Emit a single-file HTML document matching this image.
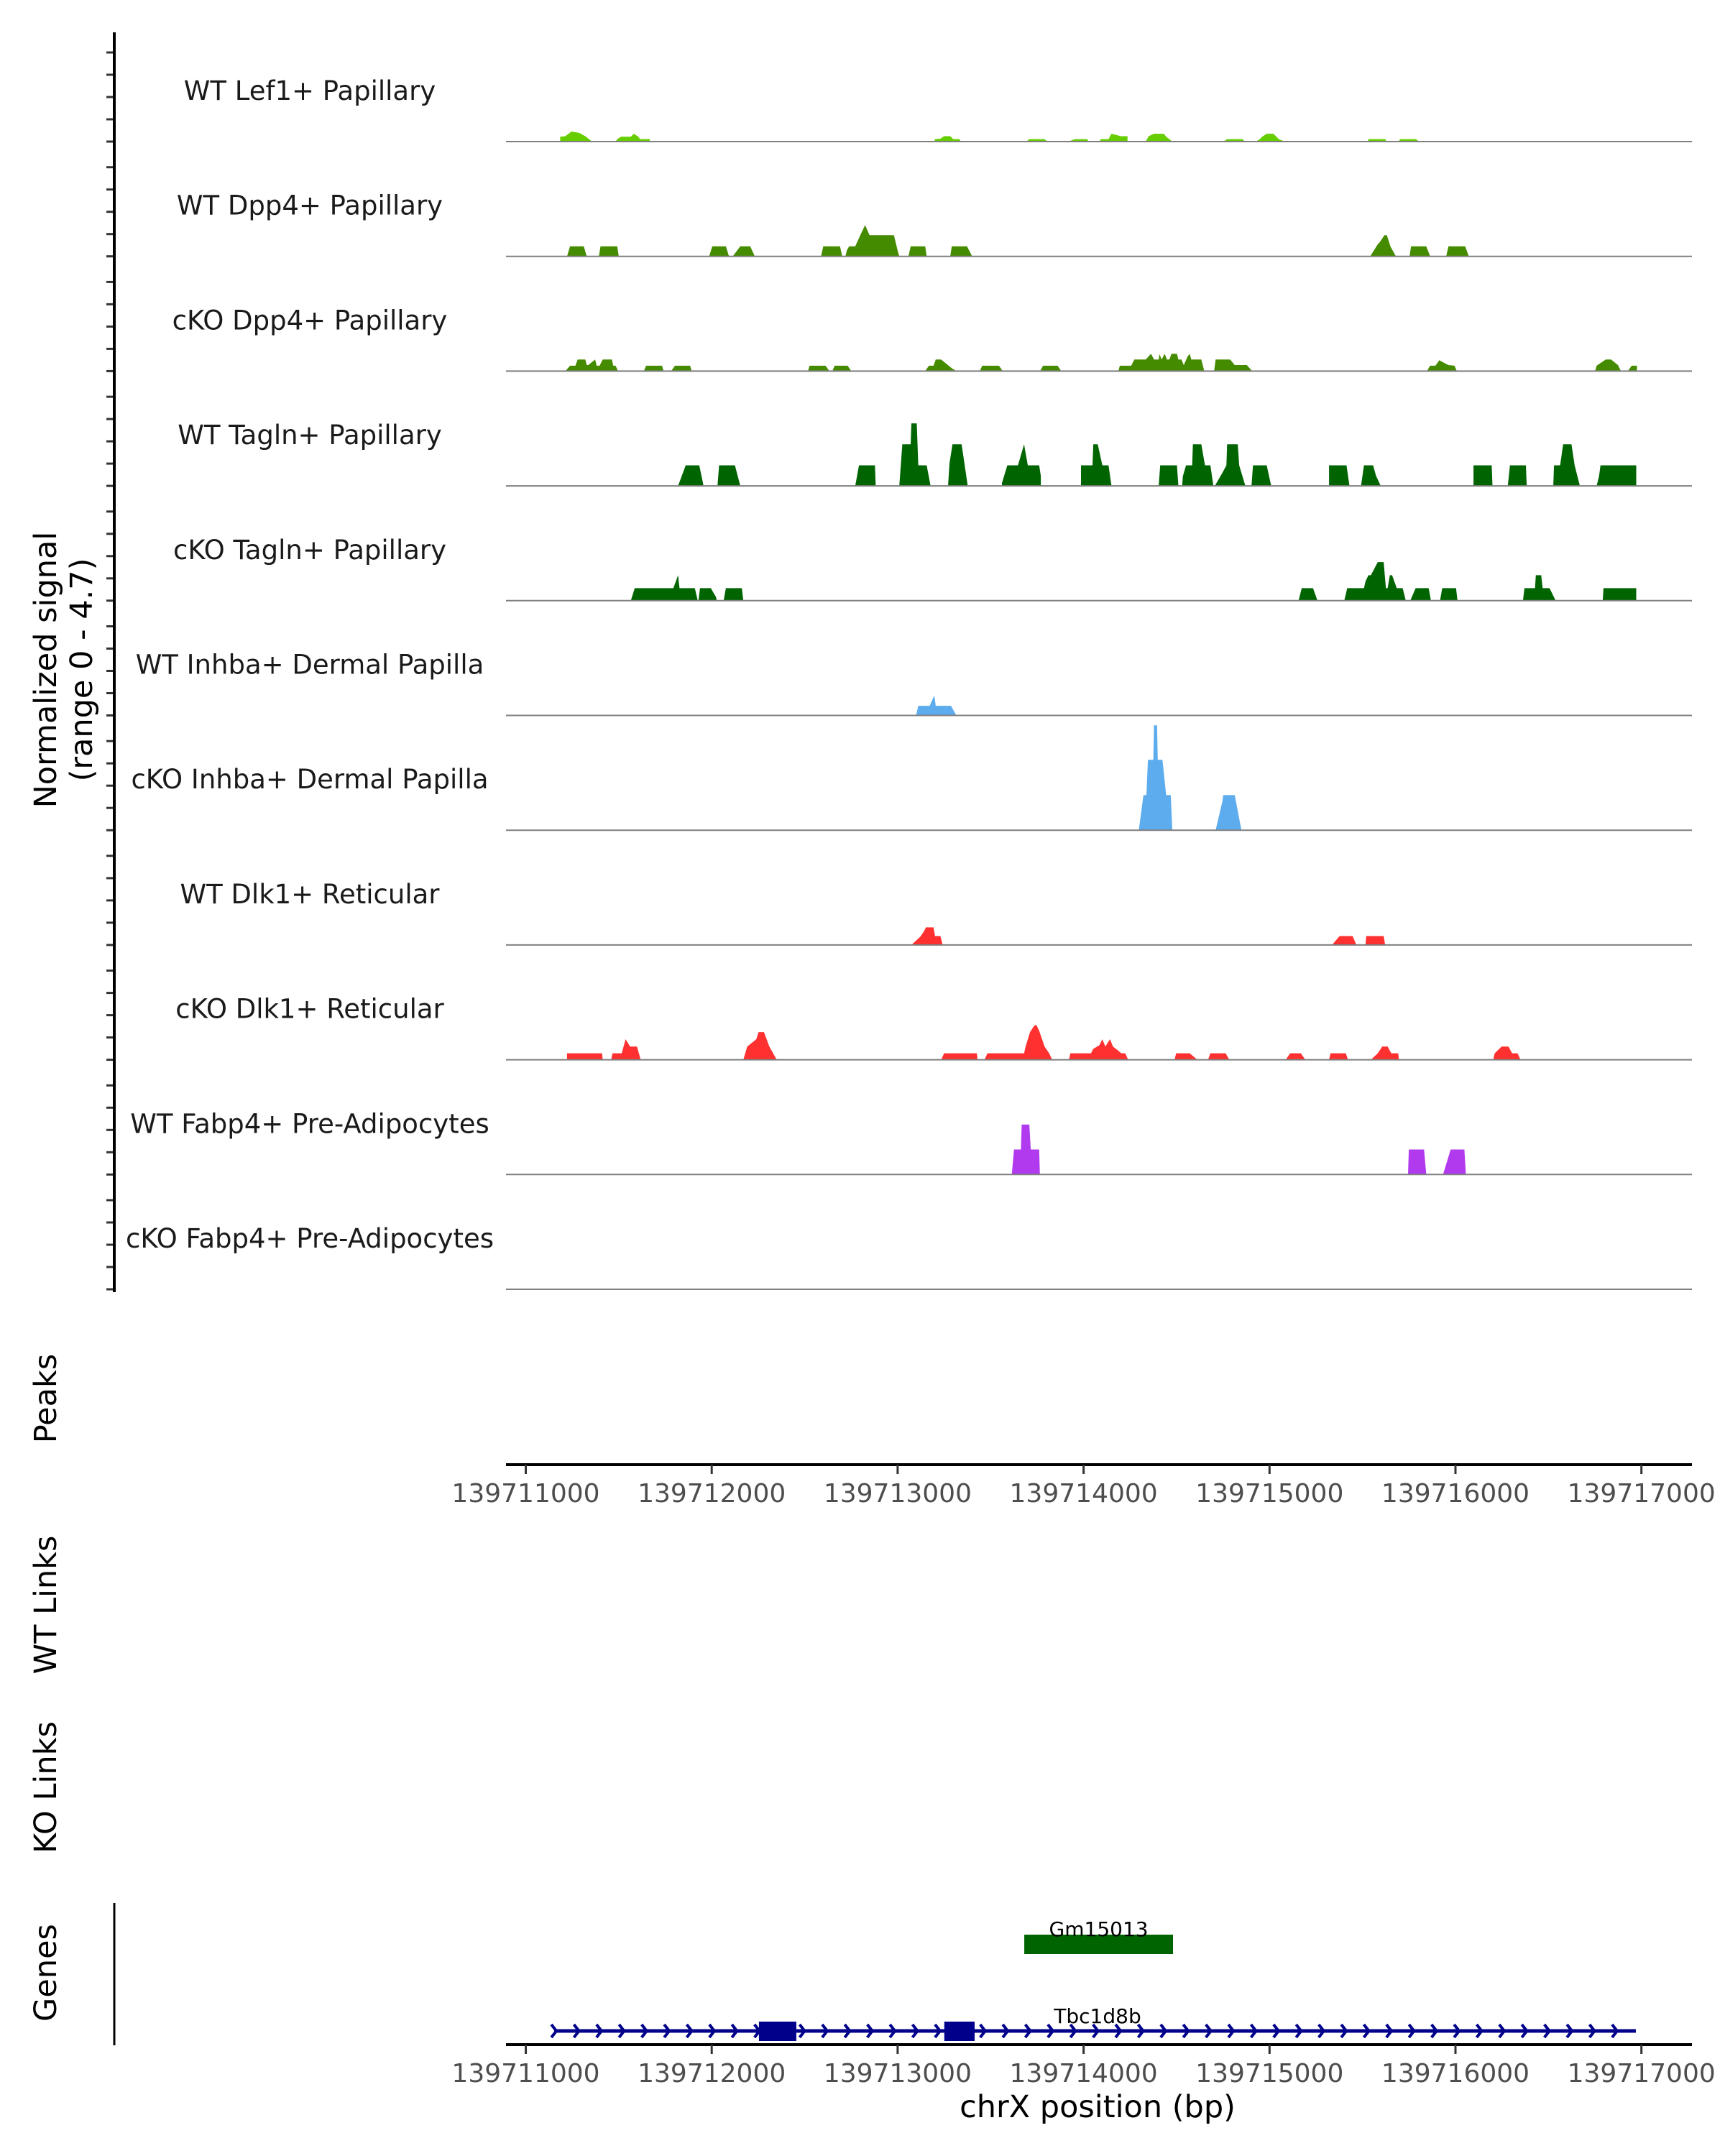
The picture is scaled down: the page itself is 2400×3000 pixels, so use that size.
<!DOCTYPE html>
<html><head><meta charset="utf-8"><title>Coverage plot</title>
<style>
html,body{margin:0;padding:0;background:#fff;}
svg{display:block;font-family:"DejaVu Sans","Liberation Sans",sans-serif;}
</style></head>
<body>
<svg id="chart" width="2400" height="3000" viewBox="0 0 2400 3000" xmlns="http://www.w3.org/2000/svg">
<rect x="0" y="0" width="2400" height="3000" fill="#fff"/>
<g id="tracks"></g>
<g id="axes"></g>
<g id="genes"></g>
</svg>
<script>
const regionStart = 139711000;
const xTickValues = [139711000,139712000,139713000,139714000,139715000,139716000,139717000];
const xTickLabels = ["139711000","139712000","139713000","139714000","139715000","139716000","139717000"];
const trackNames = ["WT Lef1+ Papillary","WT Dpp4+ Papillary","cKO Dpp4+ Papillary","WT Tagln+ Papillary","cKO Tagln+ Papillary","WT Inhba+ Dermal Papilla","cKO Inhba+ Dermal Papilla","WT Dlk1+ Reticular","cKO Dlk1+ Reticular","WT Fabp4+ Pre-Adipocytes","cKO Fabp4+ Pre-Adipocytes"];
const trackColors = ["#66cd00","#458b00","#458b00","#006400","#006400","#5cacee","#5cacee","#ff3030","#ff3030","#b23aee","#b23aee"];
const signalMax = 4.7;

// positions are bp offsets from regionStart; values are normalized signal
const lef1WtPos = [185,185,213,246,287,320,357, 483,492,512,565,581,606,614,667,667, 2197,2201,2230,2250,2283,2299,2332,2340, 2692,2708,2790,2806, 2917,2954,3019,3027, 3085,3093,3134,3150,3183,3199,3236,3236, 3334,3350,3379,3432,3444,3461,3477, 3751,3772,3853,3870, 3927,3948,3960,3985,4021,4050,4083, 4528,4532,4622,4630, 4692,4704,4786,4806];
const lef1WtVal = [0,.22,.24,.45,.39,.24,0, 0,.11,.22,.22,.35,.22,.11,.11,0, 0,.11,.13,.24,.24,.11,.11,0, 0,.11,.11,0, 0,.11,.11,0, 0,.11,.11,.35,.28,.24,.24,0, 0,.24,.35,.35,.22,.11,0, 0,.11,.11,0, 0,.11,.22,.35,.35,.11,0, 0,.11,.11,0, 0,.11,.11,0];

const dpp4WtPos = [222,238,312,328, 393,402,492,500, 986,1003,1076,1093, 1113,1154,1207,1232, 1588,1600,1690,1702, 1719,1727,1739,1772,1800,1825,1849,1980,2001,2009, 2058,2070,2148,2156, 2283,2291,2373,2401, 4541,4582,4594,4618,4631,4651,4680, 4753,4761,4843,4864, 4950,4962,5052,5072];
const dpp4WtVal = [0,.45,.45,0, 0,.45,.45,0, 0,.45,.45,0, 0,.45,.45,0, 0,.45,.45,0, 0,.27,.45,.45,.97,1.40,.95,.95,.22,0, 0,.45,.45,0, 0,.45,.45,0, 0,.54,.65,.95,.95,.43,0, 0,.45,.45,0, 0,.45,.45,0];

const dpp4KoPos = [213,238,267,279,320,328,336,373,381,397,414,463,471,483,496, 635,647,733,741, 782,802,884,892, 1518,1526,1612,1633, 1649,1661,1731,1751, 2148,2168,2193,2205,2234,2291,2316, 2442,2455,2545,2565, 2766,2782,2860,2880, 3187,3195,3256,3273,3334,3363,3379,3404,3408,3420,3436,3448,3461,3473,3502,3510,3526,3539,3559,3571,3579,3633,3649, 3702,3710,3788,3813,3878,3907, 4847,4863,4892,4913,4937,4962,4995,5007, 5751,5759,5808,5837,5874,5890, 5927,5948,5976,5976];
const dpp4KoVal = [0,.24,.24,.52,.52,.27,.27,.52,.24,.24,.52,.52,.24,.24,0, 0,.24,.24,0, 0,.24,.24,0, 0,.24,.24,0, 0,.24,.24,0, 0,.24,.24,.52,.52,.13,0, 0,.24,.24,0, 0,.24,.24,0, 0,.24,.24,.52,.52,.78,.52,.52,.76,.52,.78,.52,.52,.78,.78,.52,.52,.27,.65,.78,.52,.52,0, 0,.52,.52,.27,.27,0, 0,.24,.24,.49,.38,.27,.24,0, 0,.24,.52,.52,.27,0, 0,.24,.24,0];

const taglnWtPos = [819,860,933,954,954, 1031,1040,1125,1154, 1772,1792,1878,1882, 2009,2025,2070,2074,2103,2111,2156,2177, 2271,2279,2295,2344,2377, 2561,2561,2590,2647,2680,2700,2761,2770,2770, 2986,2986,3048,3052,3076,3101,3134,3150, 3404,3412,3502,3510, 3530,3534,3551,3584,3588,3633,3653,3682,3698, 3706,3747,3768,3772,3829,3837,3870, 3903,3911,3985,4009, 4320,4320,4414,4430, 4492,4508,4557,4573,4598, 5097,5097,5195,5199, 5281,5285,5293,5379,5383, 5526,5530,5563,5579,5624,5641,5669, 5759,5772,5780,5972,5972];
const taglnWtVal = [0,.92,.92,.09,0, 0,.92,.92,0, 0,.92,.92,0, 0,1.86,1.86,2.80,2.80,.92,.92,0, 0,1.03,1.86,1.86,0, 0,.13,.92,.92,1.86,.92,.92,.45,0, 0,.92,.92,1.86,1.86,.92,.92,0, 0,.92,.92,0, 0,.43,.92,.92,1.86,1.86,.92,.92,0, 0,.59,.92,1.86,1.86,.92,0, 0,.92,.92,0, 0,.92,.92,0, 0,.92,.92,.45,0, 0,.92,.92,0, 0,.27,.92,.92,0, 0,.92,.92,1.86,1.86,.92,0, 0,.43,.92,.92,0];

const taglnKoPos = [565,586,794,819,827,909,925, 929,937,995,1023,1027, 1064,1076,1162,1170, 4156,4173,4234,4258, 4402,4418,4508,4516,4532,4545,4582,4614,4626,4635,4647,4659,4684,4716,4733, 4757,4786,4856,4868, 4917,4929,5003,5011, 5363,5371,5428,5432,5461,5469,5506,5539, 5792,5796,5972,5972];
const taglnKoVal = [0,.56,.56,1.14,.56,.56,0, 0,.56,.56,.16,0, 0,.56,.56,0, 0,.56,.56,0, 0,.56,.56,.86,1.14,1.14,1.73,1.73,.56,.56,1.14,1.14,.56,.56,0, 0,.56,.56,0, 0,.56,.56,0, 0,.56,.56,1.14,1.14,.56,.56,0, 0,.56,.56,0];

const inhbaWtPos = [2099,2111,2172,2197,2205,2287,2316];
const inhbaWtVal = [0,.43,.43,.89,.43,.43,0];

const inhbaKoPos = [3297,3322,3338,3346,3375,3379,3395,3399,3424,3444,3469,3477, 3710,3747,3751,3813,3849];
const inhbaKoVal = [0,1.57,1.57,3.15,3.15,4.70,4.70,3.15,3.15,1.57,1.57,0, 0,1.30,1.57,1.57,0];

const dlk1WtPos = [2074,2123,2144,2152,2193,2201,2230,2242, 4336,4377,4447,4467, 4516,4520,4614,4622];
const dlk1WtVal = [0,.38,.65,.79,.79,.40,.40,0, 0,.40,.40,0, 0,.40,.40,0];

const dlk1KoPos = [222,222,410,414, 459,467,516,537,561,598,618, 1170,1191,1240,1252,1281,1310,1350, 2234,2250,2426,2430, 2467,2483,2680,2688,2712,2733,2745,2761,2790,2815,2831, 2921,2929,3040,3052,3085,3101,3117,3142,3158,3183,3203,3224,3240, 3489,3498,3571,3612, 3669,3682,3764,3784, 4087,4111,4168,4193, 4320,4328,4410,4422, 4545,4582,4606,4635,4655,4692,4696, 5203,5211,5248,5285,5305,5334,5350];
const dlk1KoVal = [0,.29,.29,0, 0,.29,.29,.92,.59,.59,0, 0,.59,.92,1.24,1.24,.59,0, 0,.29,.29,0, 0,.29,.29,.59,1.24,1.51,1.57,1.30,.59,.29,0, 0,.29,.29,.49,.65,.92,.59,.92,.59,.43,.29,.29,0, 0,.29,.29,0, 0,.29,.29,0, 0,.29,.29,0, 0,.29,.29,0, 0,.29,.59,.59,.29,.29,0, 0,.29,.59,.59,.29,.29,0];

const fabp4WtPos = [2614,2626,2663,2667,2708,2716,2761,2765, 4745,4749,4831,4843, 4933,4974,5048,5056];
const fabp4WtVal = [0,1.12,1.12,2.24,2.24,1.12,1.12,0, 0,1.12,1.12,0, 0,1.12,1.12,0];

const fabp4KoPos = [];
const fabp4KoVal = [];

const geneNames = ["Gm15013","Tbc1d8b"];
const geneStarts = [2681,153];
const geneEnds = [3481,5970];
const exonStarts = [1254,2251];
const exonEnds = [1455,2414];

const trackPos = [lef1WtPos,dpp4WtPos,dpp4KoPos,taglnWtPos,taglnKoPos,inhbaWtPos,inhbaKoPos,dlk1WtPos,dlk1KoPos,fabp4WtPos,fabp4KoPos];
const trackVal = [lef1WtVal,dpp4WtVal,dpp4KoVal,taglnWtVal,taglnKoVal,inhbaWtVal,inhbaKoVal,dlk1WtVal,dlk1KoVal,fabp4WtVal,fabp4KoVal];

const NS = "http://www.w3.org/2000/svg";
const X0 = 731.5, PXPERBP = 0.2587;
function xScale(bp){ return X0 + (bp - regionStart) * PXPERBP; }
function xOff(off){ return xScale(regionStart + off); }
const BASE0 = 197, TRACKH = 159.7, SIGPX = 146;
function yScale(v, base){ return base - v / signalMax * SIGPX; }
function mk(tag, attrs, parent){ const e=document.createElementNS(NS,tag); for(const k in attrs) e.setAttribute(k,attrs[k]); parent.appendChild(e); return e; }

const tracksG = document.getElementById('tracks');
const axesG = document.getElementById('axes');
const genesG = document.getElementById('genes');

let yl = mk('line',{x1:159,y1:45,x2:159,y2:1798,stroke:'#000','stroke-width':4},axesG);



for(let i=0;i<trackNames.length;i++){
  const base = BASE0 + TRACKH*i;
  const g = mk('g',{},tracksG);
  
  
  for(let t=0;t<5;t++){
    const ty = base - t*31;
    const tk = mk('line',{x1:148,y1:ty,x2:159,y2:ty,stroke:'#333','stroke-width':3},g);
    
    
  }
  const lab = mk('text',{x:431,y:base-58,'text-anchor':'middle','font-size':37,fill:'#1a1a1a'},g);
  lab.textContent = trackNames[i];
  
  
  const pos = trackPos[i], val = trackVal[i];
  if(pos.length){
    let d = 'M'+xOff(pos[0]).toFixed(1)+','+base;
    for(let k=0;k<pos.length;k++) d += ' L'+xOff(pos[k]).toFixed(1)+','+yScale(val[k],base).toFixed(1);
    d += ' L'+xOff(pos[pos.length-1]).toFixed(1)+','+base+' Z';
    const area = mk('path',{d:d,fill:trackColors[i],stroke:'none'},g);
    
    
  }
  const bl = mk('line',{x1:704,y1:base,x2:2354,y2:base,stroke:'#7f7f7f','stroke-width':2},g);
  
  
}

const yt = mk('text',{'text-anchor':'middle','font-size':43,fill:'#000'},axesG);


const t1 = mk('tspan',{x:0,y:0},yt); t1.textContent='Normalized signal';
const t2 = mk('tspan',{x:0,y:50},yt); t2.textContent='(range 0 - 4.7)';
yt.setAttribute('transform','translate(78,932) rotate(-90)');

function sideLabel(txt, cy, name){
  const t = mk('text',{transform:'translate(78,'+cy+') rotate(-90)','text-anchor':'middle','font-size':43,fill:'#000'},axesG);
  t.textContent = txt;
  
  
}
sideLabel('Peaks',1946,'peaks-label');
sideLabel('WT Links',2233,'wt-links-label');
sideLabel('KO Links',2487,'ko-links-label');
sideLabel('Genes',2745,'genes-label');

function xAxis(y, name){
  const g = mk('g',{},axesG);
  
  
  const l = mk('line',{x1:704,y1:y,x2:2354,y2:y,stroke:'#000','stroke-width':4},g);
  
  
  for(let i=0;i<xTickValues.length;i++){
    const x = xScale(xTickValues[i]);
    const tk = mk('line',{x1:x,y1:y,x2:x,y2:y+13,stroke:'#333','stroke-width':3},g);
    
    
    const tl = mk('text',{x:x,y:y+52,'text-anchor':'middle','font-size':36,fill:'#4d4d4d'},g);
    tl.textContent = xTickLabels[i];
    
    
  }
}
xAxis(2038,'peaks-x-axis');
xAxis(2845,'genes-x-axis');

const xt = mk('text',{x:1527,y:2946,'text-anchor':'middle','font-size':43,fill:'#000'},axesG);
xt.textContent='chrX position (bp)';



const gl = mk('line',{x1:159,y1:2648,x2:159,y2:2846,stroke:'#000','stroke-width':3},genesG);



const gm = mk('rect',{x:xOff(geneStarts[0]),y:2692,width:xOff(geneEnds[0])-xOff(geneStarts[0]),height:27,fill:'#006400'},genesG);


const gmL = mk('text',{x:(xOff(geneStarts[0])+xOff(geneEnds[0]))/2,y:2694,'text-anchor':'middle','font-size':28,fill:'#000'},genesG);
gmL.textContent = geneNames[0];



const tg = mk('g',{},genesG);


const tx1 = xOff(geneStarts[1]), tx2 = xOff(geneEnds[1]);
const tline = mk('line',{x1:tx1,y1:2826,x2:tx2,y2:2826,stroke:'#00008b','stroke-width':5},tg);


let chev = '';
for(let x=tx1; x<=tx2+1; x+=31.4){ chev += 'M'+(x-4).toFixed(1)+',2817 L'+(x+3).toFixed(1)+',2826 L'+(x-4).toFixed(1)+',2835 '; }
const ch = mk('path',{d:chev,fill:'none',stroke:'#00008b','stroke-width':4},tg);


for(let i=0;i<exonStarts.length;i++){
  const ex = mk('rect',{x:xOff(exonStarts[i]),y:2813,width:xOff(exonEnds[i])-xOff(exonStarts[i]),height:27,fill:'#00008b'},tg);
  
  
}
const tL = mk('text',{x:1527,y:2815,'text-anchor':'middle','font-size':28,fill:'#000'},tg);
tL.textContent = geneNames[1];


</script>
</body></html>
